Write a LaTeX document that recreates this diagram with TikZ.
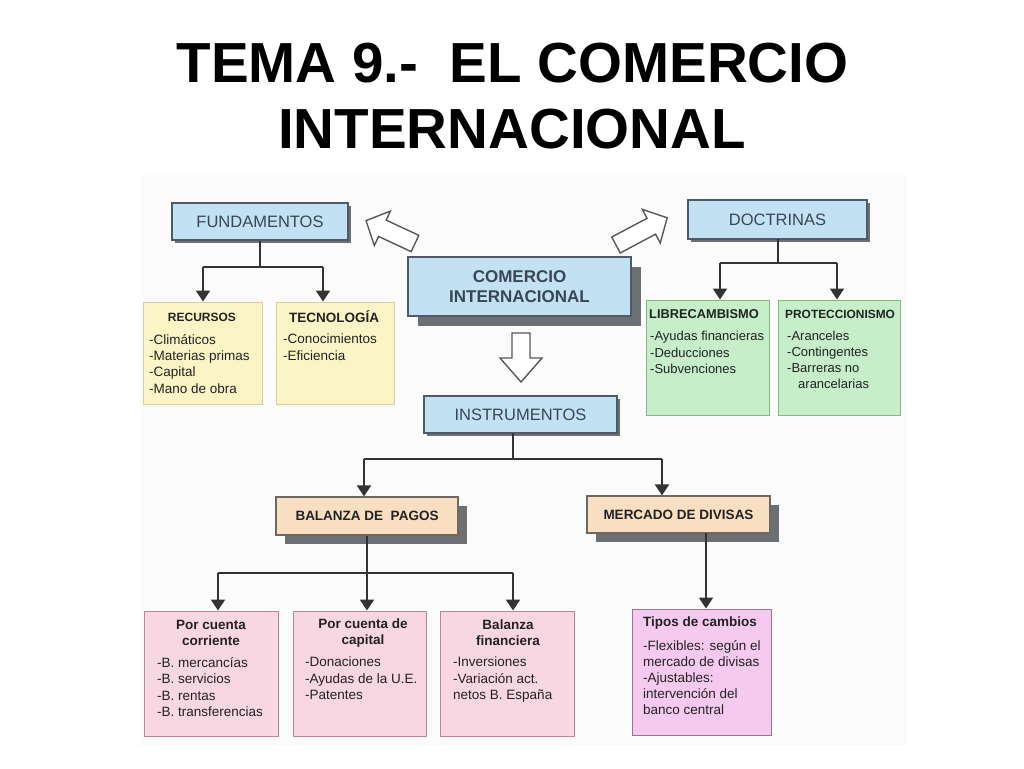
\documentclass[tikz,border=0pt]{standalone}
\usepackage{fontspec}
\setmainfont{Liberation Sans}
\usetikzlibrary{arrows.meta,shadows,calc}
\definecolor{bluebox}{HTML}{C2E2F4}
\definecolor{blueedge}{HTML}{4E5A66}
\definecolor{yelbox}{HTML}{FBF5C6}
\definecolor{yeledge}{HTML}{D9CD98}
\definecolor{grnbox}{HTML}{C6EEC9}
\definecolor{grnedge}{HTML}{86B688}
\definecolor{pinkbox}{HTML}{F8D6E2}
\definecolor{pinkedge}{HTML}{B88894}
\definecolor{magbox}{HTML}{F6CAEE}
\definecolor{magedge}{HTML}{967692}
\definecolor{peachbox}{HTML}{F9DFC2}
\definecolor{peachedge}{HTML}{6E6860}
\definecolor{shadowc}{HTML}{6C6F74}
\definecolor{linec}{HTML}{333333}
\definecolor{headc}{HTML}{3A4656}
\definecolor{textc}{HTML}{222222}
\definecolor{scanbg}{HTML}{FBFBFB}
\definecolor{hollowc}{HTML}{55585C}
\newcommand{\fsz}[2]{\fontsize{#1}{#2}\selectfont}
\begin{document}
\begin{tikzpicture}[x=1pt,y=-1pt,
  box/.style={draw, line width=1.2pt, inner sep=0pt, anchor=center, align=center},
  bluebx/.style={box, fill=bluebox, draw=blueedge, text=headc},
  peachbx/.style={box, fill=peachbox, draw=peachedge, text=textc},
  yelbx/.style={box, fill=yelbox, draw=yeledge, line width=1pt},
  grnbx/.style={box, fill=grnbox, draw=grnedge, line width=1pt},
  pinkbx/.style={box, fill=pinkbox, draw=pinkedge, line width=1pt},
  magbx/.style={box, fill=magbox, draw=magedge, line width=1pt},
  shad/.style={drop shadow={shadow xshift=#1, shadow yshift=-#1, opacity=1, fill=shadowc}},
  conn/.style={draw=linec, line width=1.9pt},
  arr/.style={conn, -{Triangle[width=14pt,length=11pt]}},
  hollow/.style={draw=hollowc, line width=1.4pt, fill=white, line join=miter},
  itm/.style={anchor=north west, inner sep=0pt, align=left, text=textc},
  hd/.style={inner sep=0pt, align=center, text=textc, font=\fsz{13.5}{16}\bfseries},
]
\useasboundingbox (0,0) rectangle (1024,768);
\fill[white] (0,0) rectangle (1024,768);
\fill[scanbg] (140,175) rectangle (907,746);

% title
\node[anchor=base, inner sep=0pt, font=\fsz{56.5}{66}\bfseries] (t1) at (512.5,82) {TEMA 9.-~~EL COMERCIO};
\node[anchor=base, inner sep=0pt, font=\fsz{56.5}{66}\bfseries] (t2) at (512,148) {INTERNACIONAL};

% main boxes
\node[bluebx, shad=10pt, minimum width=223pt, minimum height=59pt, font=\fsz{17}{20}\bfseries] (ci) at (519.5,286.5) {COMERCIO\\INTERNACIONAL};
\node[bluebx, shad=3pt, minimum width=176pt, minimum height=37pt, font=\fsz{16.5}{20}] (fund) at (260,221.5) {FUNDAMENTOS};
\node[bluebx, shad=3pt, minimum width=179pt, minimum height=39pt, font=\fsz{16.5}{20}] (doct) at (777.5,219.5) {DOCTRINAS};
\node[bluebx, shad=3pt, minimum width=193pt, minimum height=37pt, font=\fsz{16.5}{20}] (inst) at (520.5,414.5) {INSTRUMENTOS};
\node[peachbx, shad=9pt, minimum width=182pt, minimum height=38pt, font=\fsz{13.5}{16}\bfseries] (bal) at (367,516) {BALANZA DE~~PAGOS};
\node[peachbx, shad=9pt, minimum width=183pt, minimum height=37pt, font=\fsz{13.5}{16}\bfseries] (merc) at (678.5,514.5) {MERCADO DE DIVISAS};

% content boxes
\node[yelbx, minimum width=119pt, minimum height=102pt] (rec) at (202.5,353) {};
\node[yelbx, minimum width=118pt, minimum height=102pt] (tec) at (335,353) {};
\node[grnbx, minimum width=123pt, minimum height=115pt] (lib) at (707.5,357.5) {};
\node[grnbx, minimum width=122pt, minimum height=115pt] (pro) at (839,357.5) {};
\node[pinkbx, minimum width=134pt, minimum height=125pt] (pc1) at (211,673.5) {};
\node[pinkbx, minimum width=133pt, minimum height=125pt] (pc2) at (359.5,673.5) {};
\node[pinkbx, minimum width=134pt, minimum height=125pt] (pc3) at (507,673.5) {};
\node[magbx, minimum width=139pt, minimum height=126pt] (tip) at (701.5,672) {};

% texts in content boxes
\node[hd, font=\fsz{12}{14}\bfseries] (rech) at (202,317) {RECURSOS};
\node[itm, font=\fsz{13.5}{16.3}] (reci) at (149,334) {-Climáticos\\-Materias primas\\-Capital\\-Mano de obra};
\node[hd, font=\fsz{13.5}{16}\bfseries] (tech) at (334,317) {TECNOLOGÍA};
\node[itm, font=\fsz{13.5}{16.3}] (teci) at (283,334) {-Conocimientos\\-Eficiencia};

\node[hd, anchor=west, font=\fsz{12.8}{15}\bfseries] (libh) at (649,314) {LIBRECAMBISMO};
\node[itm, font=\fsz{13}{16.5}] (libi) at (650,331) {-Ayudas financieras\\-Deducciones\\-Subvenciones};
\node[hd, anchor=west, font=\fsz{11.9}{15}\bfseries] (proh) at (785,314) {PROTECCIONISMO};
\node[itm, font=\fsz{13}{15.8}] (proi) at (787,331) {-Aranceles\\-Contingentes\\-Barreras no\\\hspace*{11pt}arancelarias};

\node[hd] (pc1h) at (211,633) {Por cuenta\\corriente};
\node[itm, font=\fsz{13.5}{16.5}] (pc1i) at (157,657) {-B. mercancías\\-B. servicios\\-B. rentas\\-B. transferencias};
\node[hd] (pc2h) at (363,633) {Por cuenta de\\capital};
\node[itm, font=\fsz{13.5}{16.5}] (pc2i) at (305,657) {-Donaciones\\-Ayudas de la U.E.\\-Patentes};
\node[hd] (pc3h) at (508,633) {Balanza\\financiera};
\node[itm, font=\fsz{13.5}{16.5}] (pc3i) at (453,657) {-Inversiones\\-Variación act.\\netos B. España};

\node[hd, anchor=west] (tiph) at (643,623) {Tipos de cambios};
\node[itm, font=\fsz{13.5}{16}] (tipi) at (643,640) {-Flexibles: según el\\mercado de divisas\\-Ajustables:\\intervención del\\banco central};

% connectors: fundamentos
\coordinate (fjL) at (203,267);
\coordinate (fjR) at (323,267);
\draw[conn] (fund.south) -- (fund.south |- fjL);
\draw[conn] (fjL) -- (fjR);
\draw[arr] (fjL) -- (fjL |- rec.north);
\draw[arr] (fjR) -- (fjR |- tec.north);

% doctrinas
\coordinate (dT) at (778,239);
\coordinate (djL) at (720,263);
\coordinate (djR) at (837,263);
\draw[conn] (dT) -- (dT |- djL);
\draw[conn] (djL) -- (djR);
\draw[arr] (djL) -- (djL |- lib.north);
\draw[arr] (djR) -- (djR |- pro.north);

% instrumentos
\coordinate (ijT) at (513,433);
\coordinate (ijL) at (364,459);
\coordinate (ijR) at (662,459);
\draw[conn] (ijT) -- (ijT |- ijL);
\draw[conn] (ijL) -- (ijR);
\draw[arr] (ijL) -- (ijL |- bal.north);
\draw[arr] (ijR) -- (ijR |- merc.north);

% balanza
\coordinate (bjL) at (218,573);
\coordinate (bjM) at (367,573);
\coordinate (bjR) at (513,573);
\draw[conn] (bal.south) -- (bjM);
\draw[conn] (bjL) -- (bjR);
\draw[arr] (bjL) -- (bjL |- pc1.north);
\draw[arr] (bjM) -- (bjM |- pc2.north);
\draw[arr] (bjR) -- (bjR |- pc3.north);

% mercado
\coordinate (mj) at (706,533);
\draw[arr] (mj) -- (mj |- tip.north);

% hollow arrows
\begin{scope}[shift={(415,243.5)}, rotate=155]
  \draw[hollow] (0,-9) -- (36,-9) -- (36,-19) -- (54,0) -- (36,19) -- (36,9) -- (0,9) -- cycle;
\end{scope}
\begin{scope}[shift={(616,245)}, rotate=28]
  \draw[hollow] (0,-9) -- (40,-9) -- (40,-19) -- (58,0) -- (40,19) -- (40,9) -- (0,9) -- cycle;
\end{scope}
\draw[hollow] (512,333) -- (530,333) -- (530,358) -- (542,358) -- (521,382) -- (500,358) -- (512,358) -- cycle;
\end{tikzpicture}
\end{document}
